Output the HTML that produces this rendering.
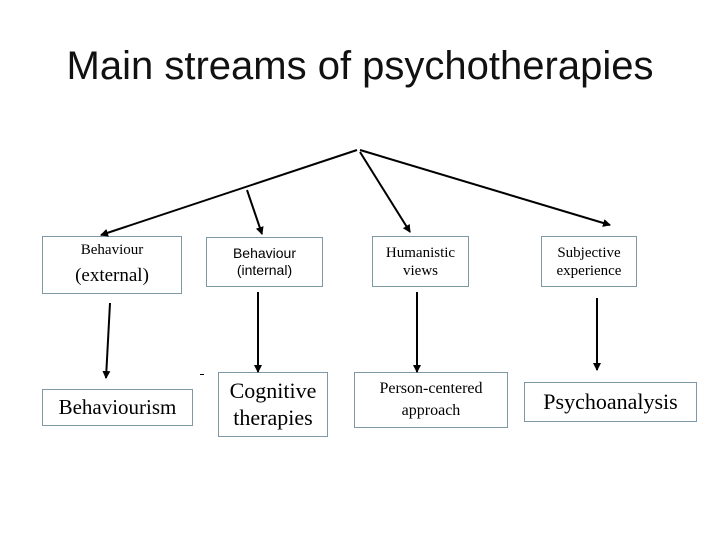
<!DOCTYPE html>
<html><head><style>
body{margin:0;width:720px;height:540px;background:#fff;position:relative;overflow:hidden;font-family:"Liberation Serif",serif;}
.t{position:absolute;left:0;width:720px;top:44px;text-align:center;font-family:"Liberation Sans",sans-serif;font-size:40px;color:#111;}
.b{position:absolute;border:1px solid #7f98a8;box-sizing:border-box;display:flex;align-items:center;justify-content:center;text-align:center;line-height:1.2;color:#000;}
</style></head><body>
<div class="t">Main streams of psychotherapies</div>
<div class="b" style="left:42px;top:236px;width:140px;height:58px;font-size:15px;line-height:1.45"><div>Behaviour<br><span style="font-size:19px">(external)</span></div></div>
<div class="b" style="left:206px;top:237px;width:117px;height:50px;font-size:14px;font-family:'Liberation Sans',sans-serif"><div>Behaviour<br>(internal)</div></div>
<div class="b" style="left:372px;top:236px;width:97px;height:51px;font-size:15px"><div>Humanistic<br>views</div></div>
<div class="b" style="left:541px;top:236px;width:96px;height:51px;font-size:15px"><div>Subjective<br>experience</div></div>
<div class="b" style="left:42px;top:389px;width:151px;height:37px;font-size:21px"><div>Behaviourism</div></div>
<div class="b" style="left:218px;top:372px;width:110px;height:65px;font-size:22px"><div>Cognitive<br>therapies</div></div>
<div class="b" style="left:354px;top:372px;width:154px;height:56px;font-size:16px;line-height:1.4"><div>Person-centered<br>approach</div></div>
<div class="b" style="left:524px;top:382px;width:173px;height:40px;font-size:22px"><div>Psychoanalysis</div></div>
<div style="position:absolute;left:200px;top:374px;width:4px;height:1px;background:#000"></div>
<svg width="720" height="540" style="position:absolute;left:0;top:0">
<defs><marker id="a" markerWidth="8" markerHeight="8" refX="7" refY="4" orient="auto" markerUnits="userSpaceOnUse"><path d="M0,0 L8,4 L0,8 z" fill="#000"/></marker></defs>
<g stroke="#000" stroke-width="2" fill="none" marker-end="url(#a)">
<line x1="357" y1="150" x2="101" y2="235"/>
<line x1="247" y1="190" x2="262" y2="234"/>
<line x1="360" y1="152" x2="410" y2="232"/>
<line x1="360" y1="150" x2="610" y2="225"/>
<line x1="110" y1="303" x2="106" y2="378"/>
<line x1="258" y1="292" x2="258" y2="372"/>
<line x1="417" y1="292" x2="417" y2="372"/>
<line x1="597" y1="298" x2="597" y2="370"/>
</g></svg>
</body></html>
